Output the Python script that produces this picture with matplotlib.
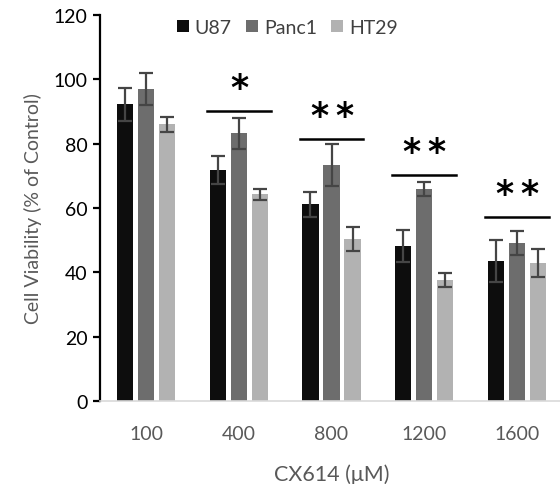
import matplotlib
matplotlib.use('Agg')
import matplotlib.pyplot as plt
import numpy as np

# data
doses = ['100', '400', '800', '1200', '1600']
cell_lines = ['U87', 'Panc1', 'HT29']
u87 = [92.3, 71.9, 61.1, 48.2, 43.6]
u87_err = [5.1, 4.3, 3.9, 5.0, 6.6]
panc1 = [96.9, 83.2, 73.3, 65.8, 49.0]
panc1_err = [5.0, 4.9, 6.5, 2.2, 3.7]
ht29 = [86.0, 64.2, 50.4, 37.5, 42.9]
ht29_err = [2.4, 1.7, 3.8, 2.2, 4.2]

# significance bars (dose index, line height, label)
sig_idx = [1, 2, 3, 4]
sig_y = [90.2, 81.3, 70.3, 57.1]
sig_txt = ['*', '**', '**', '**']

colors = ['#0d0d0d', '#6d6d6d', '#b2b2b2']
plt.rcParams['font.family'] = ['Lato', 'DejaVu Sans']

fig = plt.figure(figsize=(5.6, 4.85), dpi=100)
ax = fig.add_axes([100 / 560, 1 - 402 / 485, 463 / 560, 386 / 485])

x = np.arange(len(doses))
pitch = 0.227
width = 0.175
series = [(u87, u87_err), (panc1, panc1_err), (ht29, ht29_err)]
for i, (vals, errs) in enumerate(series):
    pos = x + (i - 1) * pitch
    ax.bar(pos, vals, width, color=colors[i], label=cell_lines[i], zorder=2)
    ax.errorbar(pos, vals, yerr=errs, fmt='none', ecolor='#454545',
                elinewidth=1.6, capsize=5.2, capthick=1.6, zorder=3)

for idx, yv, txt in zip(sig_idx, sig_y, sig_txt):
    ax.plot([idx - 0.345, idx + 0.345], [yv, yv], color='black', lw=1.8, zorder=3)
    # spread the stars a little, as in the original
    n = len(txt)
    for k in range(n):
        ax.text(idx + (k - (n - 1) / 2) * 0.27, yv + 7.2, '*', ha='center',
                va='center', fontsize=25, fontweight='bold', family='DejaVu Sans')

ax.set_xlim(-0.5, len(doses) - 0.5)
ax.set_ylim(0, 120)
ax.set_yticks(np.arange(0, 121, 20))
ax.set_xticks(x)
ax.set_xticklabels(doses)

ax.spines['top'].set_visible(False)
ax.spines['right'].set_visible(False)
ax.spines['left'].set_linewidth(1.6)
ax.spines['left'].set_color('black')
ax.spines['bottom'].set_color('#d9d9d9')
ax.spines['bottom'].set_linewidth(1.2)
ax.tick_params(axis='y', length=5, width=1.6, labelsize=14, colors='black', pad=4)
ax.tick_params(axis='x', length=0, labelsize=14, labelcolor='#595959', pad=17)

ax.set_ylabel('Cell Viability (% of Control)', fontsize=14, color='#595959', labelpad=8)
ax.set_xlabel('CX614 (\u03bcM)', fontsize=15.5, color='#595959', labelpad=16)

ax.legend(loc='upper center', bbox_to_anchor=(0.405, 1.035), ncol=3, frameon=False,
          fontsize=14, handlelength=0.6, handleheight=0.6, handletextpad=0.3,
          columnspacing=0.75, labelcolor='#404040')

fig.savefig('out.png', dpi=100)
